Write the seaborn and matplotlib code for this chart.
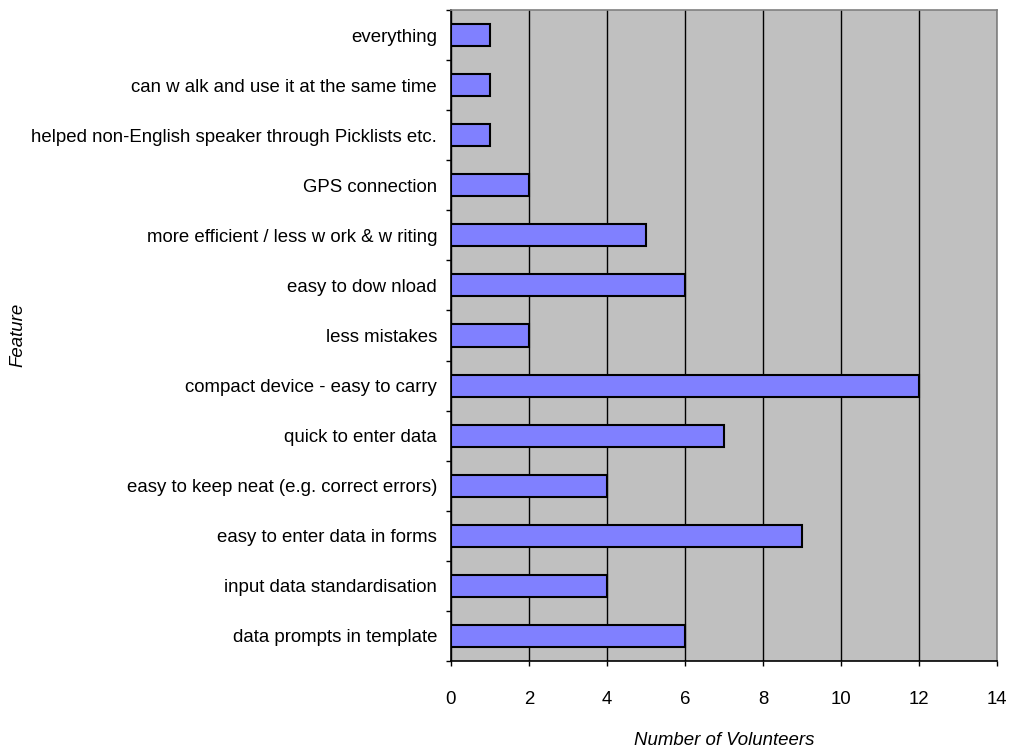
import matplotlib
matplotlib.use('Agg')
import matplotlib.pyplot as plt
import numpy as np
import pandas as pd
import seaborn as sns

features = [
    'everything',
    'can w alk and use it at the same time',
    'helped non-English speaker through Picklists etc.',
    'GPS connection',
    'more efficient / less w ork & w riting',
    'easy to dow nload',
    'less mistakes',
    'compact device - easy to carry',
    'quick to enter data',
    'easy to keep neat (e.g. correct errors)',
    'easy to enter data in forms',
    'input data standardisation',
    'data prompts in template',
]
volunteers = [1, 1, 1, 2, 5, 6, 2, 12, 7, 4, 9, 4, 6]
x_ticks = [0, 2, 4, 6, 8, 10, 12, 14]

df = pd.DataFrame({'Feature': features, 'Number of Volunteers': volunteers})

sns.set_style('white')
plt.rcParams['font.family'] = ['Liberation Sans', 'DejaVu Sans']
plt.rcParams['text.color'] = 'black'
plt.rcParams['xtick.color'] = 'black'
plt.rcParams['ytick.color'] = 'black'
plt.rcParams['axes.labelcolor'] = 'black'

fs = 13.4

fig = plt.figure(figsize=(10.09, 7.49), dpi=100)
ax = fig.add_axes([451 / 1009, 1 - 661 / 749, (997 - 451) / 1009, (661 - 10) / 749])
ax.set_facecolor('#C0C0C0')

sns.barplot(data=df, x='Number of Volunteers', y='Feature', orient='h',
            color='#8080FF', saturation=1, width=0.44,
            edgecolor='black', linewidth=1.5, ax=ax, zorder=3)

ax.set_xlim(0, 14)
ax.set_ylim(len(features) - 0.5, -0.5)
ax.set_xticks(x_ticks)
ax.set_xticklabels([str(t) for t in x_ticks], fontsize=fs)
ax.xaxis.grid(True, color='black', linewidth=1, zorder=1)
ax.set_axisbelow(True)

ax.set_yticks(range(len(features)))
ax.set_yticklabels(features, fontsize=fs)
ax.set_yticks(np.arange(-0.5, len(features), 1), minor=True)
ax.tick_params(axis='y', which='major', length=0, pad=10)
ax.tick_params(axis='y', which='minor', length=3.6, width=1, color='black', direction='out', left=True)
ax.tick_params(axis='x', which='major', length=3.6, width=1, color='black', direction='out', bottom=True, pad=18.3)

for side in ['left', 'bottom']:
    ax.spines[side].set_color('black')
    ax.spines[side].set_linewidth(1.2)
for side in ['top', 'right']:
    ax.spines[side].set_color('#808080')
    ax.spines[side].set_linewidth(1.2)

ax.set_xlabel('Number of Volunteers', fontsize=fs, style='italic', labelpad=17)
ax.set_ylabel('')
fig.text(18 / 1009, 1 - 335 / 749, 'Feature', rotation=90, fontsize=fs,
         style='italic', ha='center', va='center')

fig.savefig('out.png', dpi=100)
